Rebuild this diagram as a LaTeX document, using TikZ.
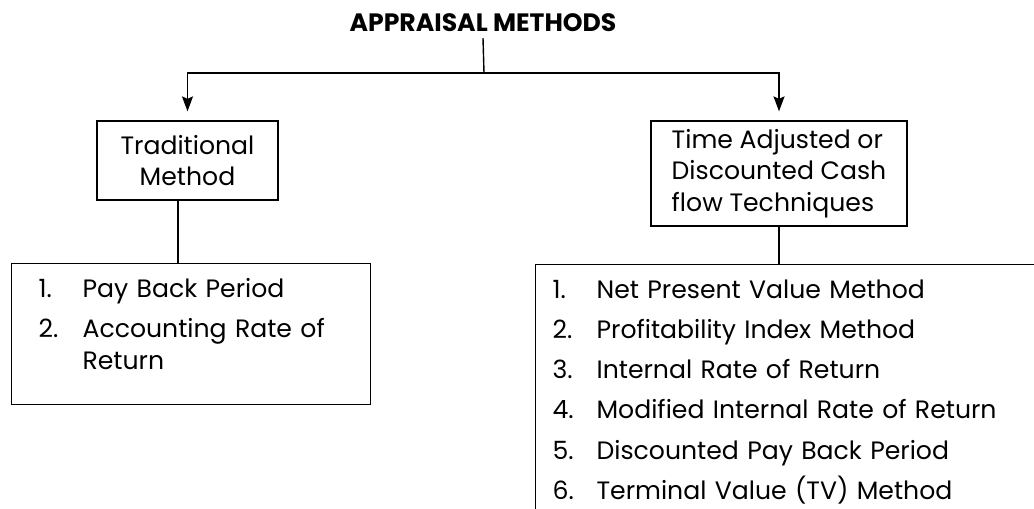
\documentclass[tikz,border=0pt]{standalone}
\usepackage{fontspec}
\setmainfont{Poppins}
\usetikzlibrary{arrows.meta,positioning}
\newcommand{\itemno}[1]{\makebox[0.88cm][l]{#1}}

\begin{document}
\begin{tikzpicture}[
    every node/.style={font=\fontsize{14.3}{17.9}\selectfont},
    box/.style={draw,line width=0.7pt,align=center,inner sep=0pt},
    lst/.style={draw,line width=0.7pt,align=left,inner xsep=0.34cm,inner ysep=0.3cm},
    arr/.style={-{Stealth[length=3mm,width=2.2mm,inset=0.5mm]},line width=0.8pt},
    ln/.style={line width=0.8pt},
  ]
  \path[use as bounding box,clip] (0,0) rectangle (20.68,10.16);

  \node (title) at (9.66,9.70) {\bfseries APPRAISAL METHODS};
  \coordinate (top) at (9.68,8.70);

  \node[box,minimum width=3.62cm,minimum height=1.58cm] (trad) at (3.75,6.95)
    {Traditional\\Method};
  \node[box,align=left,minimum width=5.12cm,minimum height=2.1cm] (dcf) at (15.58,6.69)
    {Time Adjusted or\\Discounted Cash\\flow Techniques};

  \node[lst,anchor=north west,inner xsep=0.54cm,text width=6.10cm] (lstL) at (0.22,4.90)
    {\itemno{1.}Pay Back Period\\[5pt]
     \itemno{2.}Accounting Rate of\\
     \itemno{}Return\rule[-0.4cm]{0pt}{0.4cm}};
  \node[lst,anchor=north west,text width=9.6cm] (lstR) at (10.70,4.88)
    {\itemno{1.}Net Present Value Method\\[5pt]
     \itemno{2.}Profitability Index Method\\[5pt]
     \itemno{3.}Internal Rate of Return\\[5pt]
     \itemno{4.}Modified Internal Rate of Return\\[5pt]
     \itemno{5.}Discounted Pay Back Period\\[5pt]
     \itemno{6.}Terminal Value (TV) Method};

  \draw[ln] (title.south) -- (top);
  \draw[arr,shorten >=0.18cm] (top) -| (trad.north);
  \draw[arr,shorten >=0.18cm] (top) -| (dcf.north);
  \draw[ln] ([xshift=-0.19cm]trad.south) -- ([xshift=-0.19cm]trad.south |- lstL.north);
  \draw[ln] (dcf.south) -- (dcf.south |- lstR.north);
\end{tikzpicture}
\end{document}
